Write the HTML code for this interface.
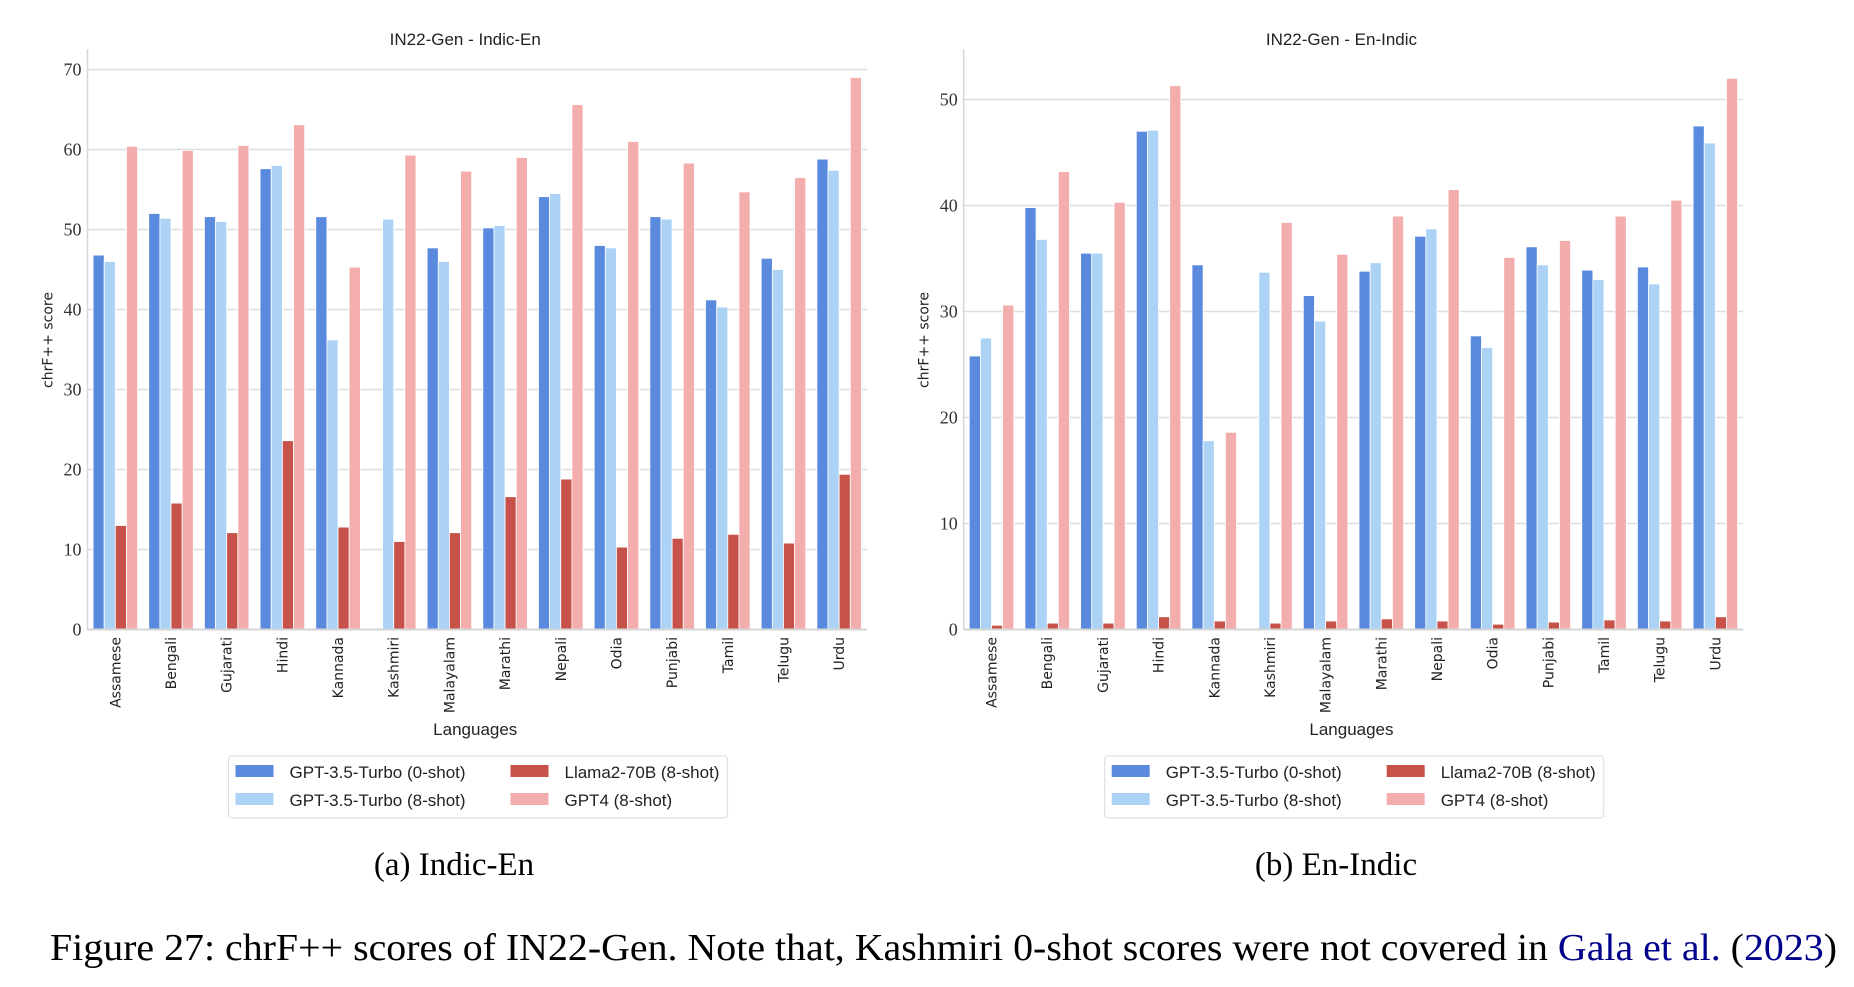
<!DOCTYPE html>
<html><head><meta charset="utf-8"><style>
html,body{margin:0;padding:0;background:#fff;}
svg{display:block;}
.tick{font-family:"Liberation Serif",serif;font-size:18px;fill:#333;}
.xl{font-family:"DejaVu Sans","Liberation Sans",sans-serif;font-size:14px;fill:#222;}
.ttl{font-family:"Liberation Sans",sans-serif;font-size:17px;fill:#222;}
.lg{font-family:"Liberation Sans",sans-serif;font-size:17px;fill:#222;}
.cap{font-family:"Liberation Serif",serif;fill:#000;}
</style></head><body>
<svg id="fig" width="1854" height="987" viewBox="0 0 1854 987" xmlns="http://www.w3.org/2000/svg">
<g id="charts"></g>
<text class="cap" x="454" y="875" font-size="33" text-anchor="middle">(a) Indic-En</text>
<text class="cap" x="1336" y="875" font-size="33" text-anchor="middle">(b) En-Indic</text>
<text class="cap" x="50" y="960" font-size="38" textLength="1787" lengthAdjust="spacingAndGlyphs">Figure 27: chrF++ scores of IN22-Gen. Note that, Kashmiri 0-shot scores were not covered in <tspan fill="#00008b">Gala et al.</tspan> (<tspan fill="#00008b">2023</tspan>)</text>
</svg>
<script>
const categories = ["Assamese","Bengali","Gujarati","Hindi","Kannada","Kashmiri","Malayalam","Marathi","Nepali","Odia","Punjabi","Tamil","Telugu","Urdu"];
const seriesNames = ["GPT-3.5-Turbo (0-shot)","GPT-3.5-Turbo (8-shot)","Llama2-70B (8-shot)","GPT4 (8-shot)"];
const indicEnGpt35Zero = [46.8,52.0,51.6,57.6,51.6,null,47.7,50.2,54.1,48.0,51.6,41.2,46.4,58.8];
const indicEnGpt35Eight = [46.0,51.4,51.0,58.0,36.2,51.3,46.0,50.5,54.5,47.7,51.3,40.3,45.0,57.4];
const indicEnLlama = [13.0,15.8,12.1,23.6,12.8,11.0,12.1,16.6,18.8,10.3,11.4,11.9,10.8,19.4];
const indicEnGpt4 = [60.4,59.9,60.5,63.1,45.3,59.3,57.3,59.0,65.6,61.0,58.3,54.7,56.5,69.0];
const enIndicGpt35Zero = [25.8,39.8,35.5,47.0,34.4,null,31.5,33.8,37.1,27.7,36.1,33.9,34.2,47.5];
const enIndicGpt35Eight = [27.5,36.8,35.5,47.1,17.8,33.7,29.1,34.6,37.8,26.6,34.4,33.0,32.6,45.9];
const enIndicLlama = [0.4,0.6,0.6,1.2,0.8,0.6,0.8,1.0,0.8,0.5,0.7,0.9,0.8,1.2];
const enIndicGpt4 = [30.6,43.2,40.3,51.3,18.6,38.4,35.4,39.0,41.5,35.1,36.7,39.0,40.5,52.0];
const indicEnTicks = [0,10,20,30,40,50,60,70];
const enIndicTicks = [0,10,20,30,40,50];

const colors = ["#5a8ade","#acd3f5","#c6524a","#f4adad"];
const NS = "http://www.w3.org/2000/svg";
function mk(tag, attrs, parent){const e=document.createElementNS(NS,tag);for(const k in attrs)e.setAttribute(k,attrs[k]);parent.appendChild(e);return e;}

function drawChart(root, ox, title, series, ticks, pxPerUnit, key){
  const g = mk("g",{},root);
  
  
  const x0 = ox, x1 = ox+779.5, y0 = 629.5, top = 49;
  const yS = v => y0 - v*pxPerUnit;
  const bw = (x1-x0)/categories.length;
  const xC = i => x0 + bw*(i+0.5);
  // grid
  ticks.forEach(t=>{
    const l = mk("line",{x1:x0,x2:x1,y1:yS(t),y2:yS(t),stroke:"#dedede","stroke-width":1.6},g);
    
    
    const tx = mk("text",{x:x0-6,y:yS(t)+6,"text-anchor":"end",class:"tick"},g);
    
    
    tx.textContent = t;
  });
  // spines
  const sl = mk("line",{x1:x0,x2:x0,y1:top,y2:y0+1,stroke:"#d6d6d6","stroke-width":1.5},g);
  
  
  // bars
  const inner = bw*0.8, w = inner/4;
  series.forEach((vals,s)=>{
    vals.forEach((v,i)=>{
      if(v===null) return;
      const r = mk("rect",{x:xC(i)-inner/2+s*w,y:yS(v),width:w,height:y0-yS(v),fill:colors[s],stroke:"#fff","stroke-width":0.8},g);
      
      
    });
  });
  const bl = mk("line",{x1:x0,x2:x1,y1:y0,y2:y0,stroke:"#d6d6d6","stroke-width":2},g);
  
  
  // x labels
  categories.forEach((c,i)=>{
    const t = mk("text",{x:0,y:0,class:"xl","text-anchor":"end",transform:"translate("+(xC(i)+5)+",637) rotate(-90)"},g);
    
    
    t.textContent = c;
  });
  const xt = mk("text",{x:(x0+x1)/2-2,y:735,class:"ttl","text-anchor":"middle"},g);
  
  
  xt.textContent = "Languages";
  const yt = mk("text",{x:0,y:0,class:"xl","text-anchor":"middle",transform:"translate("+(x0-35)+",340) rotate(-90)"},g);
  
  
  yt.textContent = "chrF++ score";
  const tt = mk("text",{x:(x0+x1)/2-12,y:45,class:"ttl","text-anchor":"middle"},g);
  
  
  tt.textContent = title;
  // legend
  const lgx = x0+141;
  const lg = mk("g",{},g);
  
  
  mk("rect",{x:lgx,y:756,width:499,height:62,rx:3,fill:"#fff",stroke:"#e0e0e0","stroke-width":1.2},lg);
  seriesNames.forEach((n,s)=>{
    const col = s<2?0:1, row = s%2;
    const px = lgx + 7 + col*275, py = 765 + row*28;
    const e = mk("g",{},lg);
    
    
    mk("rect",{x:px,y:py,width:38,height:12,fill:colors[s]},e);
    const t = mk("text",{x:px+54,y:py+13,class:"lg"},e);
    t.textContent = n;
  });
}
const root = document.getElementById("charts");
drawChart(root, 87.5, "IN22-Gen - Indic-En", [indicEnGpt35Zero,indicEnGpt35Eight,indicEnLlama,indicEnGpt4], indicEnTicks, 8.0, "indic-en");
drawChart(root, 963.7, "IN22-Gen - En-Indic", [enIndicGpt35Zero,enIndicGpt35Eight,enIndicLlama,enIndicGpt4], enIndicTicks, 10.6, "en-indic");
</script>
</body></html>
